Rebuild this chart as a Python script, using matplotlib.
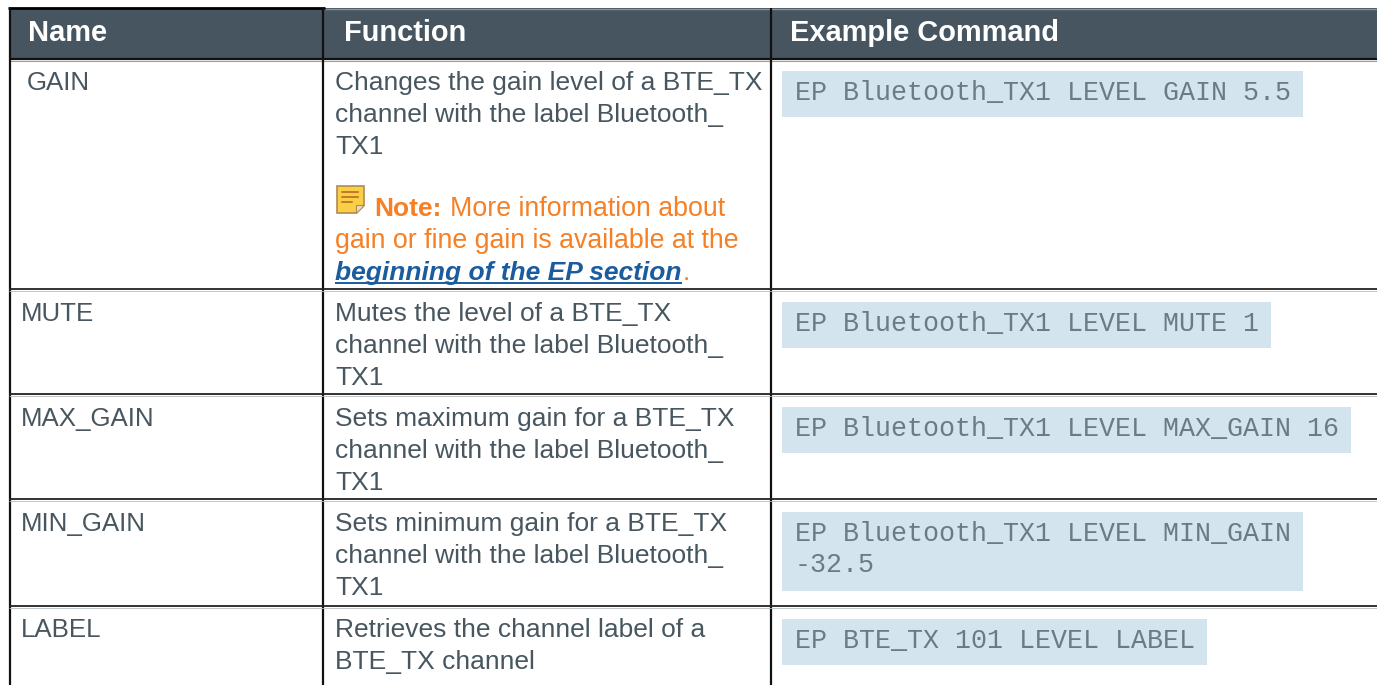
import matplotlib
matplotlib.use('Agg')
import matplotlib.pyplot as plt
from matplotlib.patches import Rectangle, Polygon

# Table content
headers = ['Name', 'Function', 'Example Command']
names = ['GAIN', 'MUTE', 'MAX_GAIN', 'MIN_GAIN', 'LABEL']
functions = [
    ['Changes the gain level of a BTE_TX', 'channel with the label Bluetooth_', 'TX1'],
    ['Mutes the level of a BTE_TX', 'channel with the label Bluetooth_', 'TX1'],
    ['Sets maximum gain for a BTE_TX', 'channel with the label Bluetooth_', 'TX1'],
    ['Sets minimum gain for a BTE_TX', 'channel with the label Bluetooth_', 'TX1'],
    ['Retrieves the channel label of a', 'BTE_TX channel'],
]
commands = [
    ['EP Bluetooth_TX1 LEVEL GAIN 5.5'],
    ['EP Bluetooth_TX1 LEVEL MUTE 1'],
    ['EP Bluetooth_TX1 LEVEL MAX_GAIN 16'],
    ['EP Bluetooth_TX1 LEVEL MIN_GAIN', '-32.5'],
    ['EP BTE_TX 101 LEVEL LABEL'],
]
note_label = 'Note:'
note_lines = ['More information about', 'gain or fine gain is available at the']
note_link = 'beginning of the EP section'

# Colours
header_bg = '#465560'
text_col = '#47565f'
code_bg = '#d3e4ee'
code_text = '#6b7b85'
orange = '#f58025'
link_col = '#1a5c9e'

# Layout in pixels
W, H = 1377, 685
name_x = [27, 21, 21, 21, 21]
row_base = [90, 321, 426, 531, 637]
code_boxes = [(782, 71, 521, 46), (782, 302, 489, 46), (782, 407, 569, 46),
              (782, 512, 521, 79), (782, 619, 425, 46)]
row_lines = [289, 394, 499, 606]
col_lines = [323, 771]
left_x = 9.5

fig = plt.figure(figsize=(W / 100, H / 100), dpi=100)
ax = fig.add_axes([0, 0, 1, 1])
ax.set_xlim(0, W)
ax.set_ylim(H, 0)
ax.axis('off')

SANS = 'Liberation Sans'
MONO = 'Liberation Mono'
FS = 19.0
NAME_FS = 18.6
NOTE_FS = 19.25
CODE_FS = 19.2

# Header band
ax.add_patch(Rectangle((9, 8), W - 9, 51, fc=header_bg, ec='none', zorder=1))
ax.plot([324, W], [8.5, 8.5], color='#8b959c', lw=1, zorder=2)
ax.plot([8, 325], [8, 8], color='black', lw=2, zorder=3, solid_capstyle='butt')
ax.plot([9, W], [58.5, 58.5], color='#111111', lw=1.6, zorder=3, solid_capstyle='butt')
ax.plot([9, W], [60.5, 60.5], color='#9aa2a8', lw=0.8, zorder=3, solid_capstyle='butt')

for x, h in zip([28.5, 343.5, 790], headers):
    ax.text(x, 41, h, color='white', fontsize=20.9, fontweight='bold',
            family=SANS, va='baseline', ha='left', zorder=4)

# Grid
for x in [left_x] + col_lines:
    ax.plot([x, x], [8, H], color='#111111', lw=1.6, zorder=3, solid_capstyle='butt')
for y in row_lines:
    ax.plot([9, W], [y, y], color='#222222', lw=1.3, zorder=3, solid_capstyle='butt')
    ax.plot([9, W], [y + 1.8, y + 1.8], color='#b5bbbf', lw=0.6, zorder=3, solid_capstyle='butt')

# Rows
for i, name in enumerate(names):
    ax.text(name_x[i], row_base[i], name, color=text_col, fontsize=NAME_FS,
            family=SANS, va='baseline')
    for j, line in enumerate(functions[i]):
        ax.text(335, row_base[i] + 32 * j, line, color=text_col, fontsize=FS,
                family=SANS, va='baseline')
    bx, by, bw, bh = code_boxes[i]
    ax.add_patch(Rectangle((bx, by), bw, bh, fc=code_bg, ec='none', zorder=1))
    for j, line in enumerate(commands[i]):
        ax.text(795, by + 29 + 31 * j, line, color=code_text, fontsize=CODE_FS,
                family=MONO, va='baseline', zorder=2)

# Note icon
ax.add_patch(Polygon([(337, 186), (364, 186), (364, 205), (356, 213), (337, 213)],
                     closed=True, fc='#f9cf45', ec='#b08a55', lw=1.2, zorder=2))
ax.add_patch(Polygon([(356, 213), (356, 205), (364, 205)], closed=True,
                     fc='#e9dcc0', ec='#b08a55', lw=0.8, zorder=3))
for y, x2 in [(192, 358), (197, 358), (202, 352)]:
    ax.plot([342, x2], [y, y], color='#b5651d', lw=1.1, zorder=3)

# Note text
ax.text(374.5, 216, note_label, color=orange, fontsize=FS, fontweight='bold',
        family=SANS, va='baseline')
ax.text(450, 216, note_lines[0], color=orange, fontsize=NOTE_FS, family=SANS, va='baseline')
ax.text(335, 248, note_lines[1], color=orange, fontsize=NOTE_FS, family=SANS, va='baseline')
link = ax.text(335, 280, note_link, color=link_col, fontsize=FS, fontweight='bold',
               style='italic', family=SANS, va='baseline')
fig.canvas.draw()
ext = link.get_window_extent().transformed(ax.transData.inverted())
ax.plot([335, ext.x1], [283, 283], color=link_col, lw=1.4, solid_capstyle='butt')
ax.text(ext.x1 + 1, 280, '.', color=orange, fontsize=FS, family=SANS, va='baseline')

fig.savefig('out.png', dpi=100)
